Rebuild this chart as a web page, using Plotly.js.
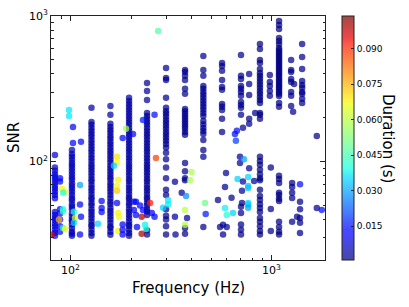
<!DOCTYPE html>
<html>
<head>
<meta charset="utf-8">
<script src="https://cdn.plot.ly/plotly-3.0.1.min.js"></script>
<style>html,body{margin:0;padding:0;background:#fff;}#chart{width:409px;height:307px;}</style>
</head>
<body>
<div id="chart"></div>
<script>
// ---- Data ----
// Dense vertical columns of triggers: one frequency per column, its SNR values, and a typical duration.
const columnFreq = [83.7, 101.7, 127.2, 158, 195.6, 240.3, 298.8, 371.4, 458, 567.4, 705, 774, 876, 981, 1090, 1252, 1420, 1386, 1680];
const columnDur  = [0.009, 0.006, 0.004, 0.004, 0.004, 0.003, 0.002, 0.002, 0.002, 0.002, 0.002, 0.002, 0.001, 0.002, 0.001, 0.002, 0.002, 0.002, 0.002];
const columnSnr = [
  [111, 91, 86.5, 82, 78.5, 75, 71.5, 68, 65, 62, 59, 56, 45, 43, 41, 39.5, 37.5, 36, 34, 32.5, 31],
  [120, 113, 108, 103, 98, 94, 90, 86, 82, 78, 75, 71, 68, 65, 62, 59, 56, 54, 51, 49, 47, 44, 42, 40, 39, 37, 35, 33, 32, 31],
  [234, 187, 179, 170, 162, 155, 148, 141, 134, 128, 122, 117, 111, 106, 101, 96, 92, 88, 84, 80, 76, 73, 69, 66, 63, 60, 57, 55, 52, 50, 47, 45, 43, 41, 39, 37, 36, 34, 32.4, 31],
  [241, 210, 182, 173, 165, 158, 150, 144, 137, 131, 125, 119, 114, 109, 104, 99, 94, 90, 86, 82, 78, 75, 71, 68, 65, 62, 59, 56, 53, 51, 48, 46, 44, 42, 40, 38, 36, 35, 33, 31.5],
  [274, 261, 249, 237, 226, 216, 206, 196, 187, 179, 170, 162, 155, 148, 141, 134, 128, 122, 117, 111, 106, 101, 96, 92, 88, 84, 80, 76, 73, 69, 66, 63, 60, 57, 55, 52, 50, 47, 45, 43, 41, 39, 37, 36, 34, 32.4, 31],
  [347, 306, 265, 216, 206, 196, 187, 179, 170, 162, 155, 148, 141, 134, 128, 122, 117, 111, 106, 101, 96, 92, 88, 84, 80, 76, 73, 69, 66, 63, 60, 57, 55, 52, 50, 47, 45.4, 43, 33.8, 31.6],
  [440, 375, 364, 274, 234, 222, 213, 203, 193, 185, 176, 168, 160, 153, 146, 139, 132, 125, 115, 104, 91, 77, 64, 59, 47, 42.4, 40, 36, 31.6],
  [426, 413, 388, 364, 316, 292, 230, 222, 213, 205, 197, 189, 182, 175, 168, 160, 153, 98, 86, 77, 74.5, 35, 32],
  [531, 426, 388, 331, 316, 301, 288, 275, 262, 250, 238, 227, 216, 206, 190, 180, 170, 162, 155, 141, 120, 108],
  [476, 454, 420, 364, 326, 311, 249, 238, 226, 197, 160],
  [540, 388, 369, 331, 316, 301, 283, 257, 245, 234, 210, 49, 44.4, 37, 34, 31.6],
  [400, 341, 287, 197, 182],
  [643, 594, 499, 476, 433, 406, 388, 370, 353, 337, 321, 306, 292, 278, 265, 253, 216, 210, 197, 108, 101, 95, 88, 82, 77, 74.5, 64, 58, 54.6, 51, 48, 45, 41, 38.6, 36, 33.4, 31.6],
  [394, 352, 331, 306, 283],
  [924, 867, 814, 706, 674, 643, 603, 584, 566, 549, 531, 515, 499, 483, 468, 454, 440, 426, 413, 400, 388, 375, 364, 352, 341, 331, 321, 311, 301, 292, 282, 253, 238, 80, 76, 71.4, 61, 59, 55.6, 53.7, 38.6, 35.6, 33, 31.6],
  [499, 426, 413, 369, 352, 301, 283, 241],
  [643, 523, 433, 358, 336, 321, 301, 292, 270, 253],
  [53, 47, 41, 38, 32.4],
  [150, 48]
];

// Scattered individual triggers (frequency Hz, SNR, duration s), same order in each list.
const extraFreq = [
  88.7, 88.7, 88.7, 88.7, 88.7, 88.7, 88.7, 90.7, 93.9, 91.8,
  91.8, 91.8, 87.7, 91.8, 93.9, 80.5, 98.3, 98.3, 102.9, 102.9,
  112.8, 111.5, 111.5, 112.8, 111.5, 104.1, 105.3, 104.1, 142.9, 142.9,
  142.9, 137, 170.4, 170.4, 164.5, 172.4, 170.4, 170.4, 170.4, 172.4,
  174.4, 172.4, 188.9, 204.6, 181.8, 206.9, 206.9, 181.8, 181.8, 181.8,
  261.9, 229.5, 266.2, 248.9, 229.5, 226, 226, 211.7, 211.7, 214.2,
  261.9, 253.9, 234.9, 237.6, 221.8, 305.7, 305.7, 288.6, 330.8, 330.8,
  357.5, 333, 375.7, 273, 400, 393.5, 371.4, 371.4, 380, 467,
  470.5, 458, 593.9, 541.8, 573.9, 573.9, 554.5, 598.6, 587, 598.6,
  642.7, 587, 632.6, 721, 672.6, 665, 657.6, 696.8, 696.8, 729.6,
  713, 713, 678, 721, 765.4, 765.4, 765.4, 765.4, 765.4, 765.4,
  774, 819.5, 829, 992, 992, 992, 1280, 1295, 1266, 1266,
  1266, 1266, 1266, 1386, 1340, 1780
];
const extraSnr = [
  77, 73, 47, 44, 40, 36, 33, 65, 62, 61,
  47, 45.5, 40, 35, 34.5, 31.5, 226, 206, 173, 134,
  137, 69, 50.7, 41.8, 31.6, 45.2, 41, 38, 53.7, 48,
  45, 37.4, 108, 99.5, 93.6, 75, 68, 63, 52, 44.4,
  41.8, 33.4, 168, 155, 145, 53, 46.6, 37, 34, 31.6,
  210, 193, 106, 52, 46.6, 41.8, 32, 53, 43, 35.6,
  41.8, 44.4, 36.8, 34.5, 50, 54.6, 50.7, 48.3, 72.6, 41.8,
  61.2, 31.6, 58, 789, 85, 74.5, 46.6, 36.8, 41, 52,
  43.7, 35.6, 83.6, 54.6, 36.8, 31.6, 35.6, 35.6, 48, 43,
  44.4, 67, 56.4, 171, 163, 139, 155, 108, 98, 104,
  63, 52, 76, 73, 78.5, 68, 66, 52, 50.7, 48.3,
  90, 73.7, 216, 91, 47.3, 33.4, 220, 341, 71.4, 67,
  61, 56.3, 38.6, 70, 41.8, 46.6
];
const extraDur = [
  0.014, 0.014, 0.014, 0.014, 0.014, 0.014, 0.014, 0.068, 0.065, 0.040,
  0.040, 0.042, 0.076, 0.040, 0.066, 0.095, 0.037, 0.037, 0.014, 0.014,
  0.014, 0.030, 0.014, 0.014, 0.014, 0.040, 0.065, 0.035, 0.014, 0.014,
  0.014, 0.035, 0.070, 0.067, 0.035, 0.068, 0.066, 0.073, 0.014, 0.068,
  0.066, 0.068, 0.058, 0.014, 0.014, 0.013, 0.013, 0.013, 0.013, 0.013,
  0.015, 0.016, 0.088, 0.092, 0.013, 0.100, 0.100, 0.013, 0.013, 0.013,
  0.013, 0.013, 0.038, 0.040, 0.013, 0.037, 0.037, 0.035, 0.003, 0.003,
  0.003, 0.003, 0.028, 0.047, 0.058, 0.058, 0.060, 0.060, 0.003, 0.050,
  0.016, 0.002, 0.002, 0.002, 0.002, 0.002, 0.002, 0.003, 0.038, 0.040,
  0.035, 0.003, 0.002, 0.003, 0.015, 0.020, 0.015, 0.003, 0.003, 0.030,
  0.003, 0.001, 0.035, 0.003, 0.035, 0.033, 0.033, 0.035, 0.035, 0.030,
  0.003, 0.003, 0.002, 0.002, 0.002, 0.002, 0.002, 0.002, 0.002, 0.002,
  0.002, 0.002, 0.002, 0.015, 0.002, 0.015
];

const xTickVals = [100, 1000];
const xTickLabels = ['10<sup>2</sup>', '10<sup>3</sup>'];
const yTickVals = [100, 1000];
const yTickLabels = ['10<sup>2</sup>', '10<sup>3</sup>'];
const xMinorTicks = [80, 90, 200, 300, 400, 500, 600, 700, 800, 900];
const yMinorTicks = [30, 40, 50, 60, 70, 80, 90, 200, 300, 400, 500, 600, 700, 800, 900];

// ---- Build the trace ----
const xs = [], ys = [], cs = [];
columnFreq.forEach((f, i) => {
  columnSnr[i].forEach(s => { xs.push(f); ys.push(s); cs.push(columnDur[i]); });
});
extraFreq.forEach((f, i) => { xs.push(f); ys.push(extraSnr[i]); cs.push(extraDur[i]); });

const A = 0.72;
const jet = [
  [0, `rgba(0,0,128,${A})`], [0.11, `rgba(0,0,255,${A})`], [0.125, `rgba(0,0,255,${A})`],
  [0.34, `rgba(0,219,255,${A})`], [0.35, `rgba(0,230,247,${A})`], [0.375, `rgba(21,255,226,${A})`],
  [0.64, `rgba(239,255,8,${A})`], [0.65, `rgba(247,245,0,${A})`], [0.66, `rgba(255,236,0,${A})`],
  [0.89, `rgba(255,19,0,${A})`], [0.91, `rgba(232,0,0,${A})`], [1, `rgba(128,0,0,${A})`]
];

const L = 51, R = 84, T = 16, B = 47, W = 409, H = 307;
const pw = W - L - R, ph = H - T - B;

const trace = {
  type: 'scatter', mode: 'markers', x: xs, y: ys,
  hoverinfo: 'none',
  marker: {
    size: 6.5, color: cs, colorscale: jet, cmin: 0.0007, cmax: 0.1039,
    line: {width: 0},
    colorbar: {
      x: (342 - L) / pw, xanchor: 'left', xpad: 0, ypad: 0,
      y: 0.5, yanchor: 'middle', len: 1, lenmode: 'fraction',
      thickness: 12, thicknessmode: 'pixels',
      outlinewidth: 1, outlinecolor: '#222',
      tickmode: 'linear', tick0: 0, dtick: 0.015, tickformat: '.3f',
      ticks: 'inside', ticklen: 3, tickcolor: '#222',
      tickfont: {family: 'DejaVu Sans', size: 9, color: 'black'},
      title: {text: ''}
    }
  }
};

const axisCommon = {
  type: 'log', ticks: 'inside', ticklen: 5, tickwidth: 1, tickcolor: '#222',
  showline: true, linecolor: '#222', linewidth: 1, mirror: 'ticks',
  showgrid: false, zeroline: false, tickmode: 'array',
  tickfont: {family: 'DejaVu Sans', size: 11, color: 'black'}
};

const layout = {
  width: W, height: H,
  margin: {l: L, r: R, t: T, b: B, pad: 0},
  paper_bgcolor: 'white', plot_bgcolor: 'white',
  font: {family: 'DejaVu Sans', color: 'black'},
  showlegend: false,
  xaxis: Object.assign({}, axisCommon, {
    range: [Math.log10(80), Math.log10(1845)],
    tickvals: xTickVals, ticktext: xTickLabels,
    minor: {tickmode: 'array', tickvals: xMinorTicks, ticks: 'inside', ticklen: 2.5, tickcolor: '#222', showgrid: false}
  }),
  yaxis: Object.assign({}, axisCommon, {
    range: [Math.log10(21.1), 3],
    tickvals: yTickVals, ticktext: yTickLabels,
    minor: {tickmode: 'array', tickvals: yMinorTicks, ticks: 'inside', ticklen: 2.5, tickcolor: '#222', showgrid: false}
  }),
  annotations: [
    {text: 'Frequency (Hz)', xref: 'paper', yref: 'paper', x: 0.5, y: (260 - 288) / ph,
     xanchor: 'center', yanchor: 'middle', showarrow: false, font: {family: 'DejaVu Sans', size: 15, color: 'black'}},
    {text: 'SNR', xref: 'paper', yref: 'paper', x: (14 - L) / pw, y: 0.5, textangle: -90,
     xanchor: 'center', yanchor: 'middle', showarrow: false, font: {family: 'DejaVu Sans', size: 15, color: 'black'}},
    {text: 'Duration (s)', xref: 'paper', yref: 'paper', x: (388 - L) / pw, y: 0.5, textangle: 90,
     xanchor: 'center', yanchor: 'middle', showarrow: false, font: {family: 'DejaVu Sans', size: 15, color: 'black'}}
  ]
};

Plotly.newPlot('chart', [trace], layout, {staticPlot: true, displayModeBar: false});
</script>
</body>
</html>
